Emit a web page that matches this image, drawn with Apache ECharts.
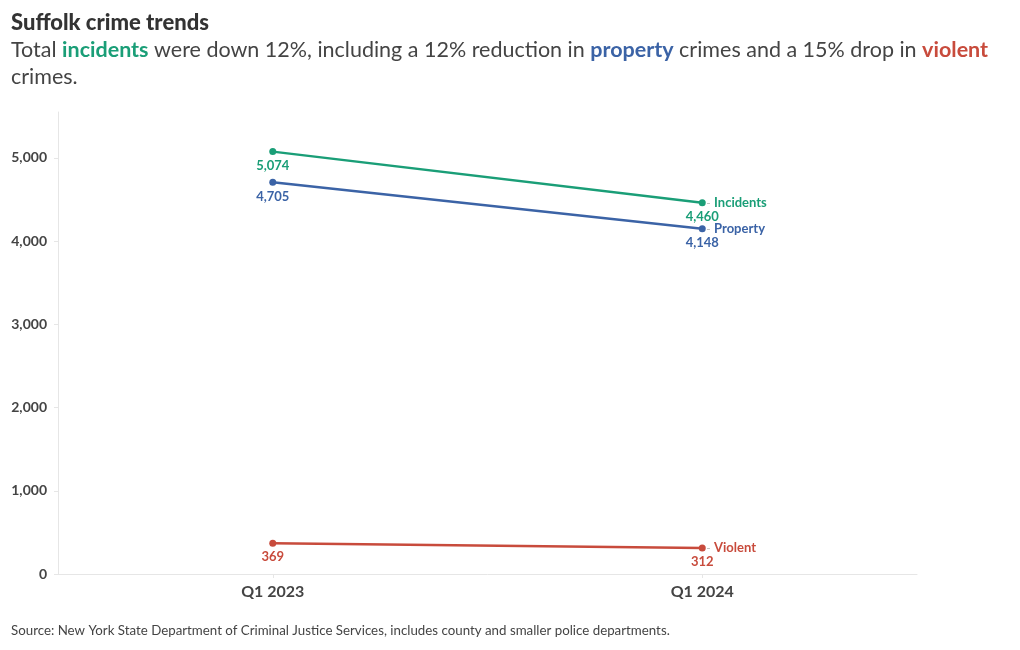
<!DOCTYPE html>
<html>
<head>
<meta charset="utf-8">
<script src="https://cdn.jsdelivr.net/npm/echarts@6/dist/echarts.min.js"></script>
<style>
html,body{margin:0;padding:0;background:#fff;}
#chart{width:1020px;height:650px;}
</style>
</head>
<body>
<div id="chart"></div>
<script>
const categories = ['Q1 2023', 'Q1 2024'];
const incidents = [5074, 4460];
const property = [4705, 4148];
const violent = [369, 312];
const yTicks = [0, 1000, 2000, 3000, 4000, 5000];

const FONT = 'Lato';
const C_INC = '#1a9e77';
const C_PROP = '#3b63a6';
const C_VIO = '#c84b3c';

const chart = echarts.init(document.getElementById('chart'));

function mkSeries(name, data, color) {
  return {
    name: name,
    type: 'line',
    data: data,
    symbol: 'circle',
    symbolSize: 7,
    lineStyle: { color: color, width: 2.5 },
    itemStyle: { color: color },
    label: {
      show: true,
      position: 'bottom',
      distance: 4,
      color: color,
      fontFamily: FONT,
      fontWeight: 'bold',
      fontSize: 13,
      formatter: p => p.value.toLocaleString('en-US')
    },
    endLabel: {
      show: true,
      distance: 4,
      formatter: '{d|-} {n|' + name + '}',
      rich: {
        d: { color: '#bbbbbb', fontFamily: FONT, fontSize: 12 },
        n: { color: color, fontFamily: FONT, fontWeight: 'bold', fontSize: 13 }
      }
    },
    emphasis: { disabled: true },
    animation: false
  };
}

chart.setOption({
  animation: false,
  title: [
    {
      left: 11, top: 12, padding: 0,
      text: 'Suffolk crime trends',
      textStyle: { fontFamily: FONT, fontWeight: 900, fontSize: 22, color: '#333333' }
    },
    {
      left: 11, top: 37, padding: 0,
      text: '{t|Total }{i|incidents}{t| were down 12%, including a 12% reduction in }{p|property}{t| crimes and a 15% drop in }{v|violent}\n{t|crimes.}',
      textStyle: {
        fontWeight: 'normal',
        rich: {
          t: { fontFamily: FONT, fontSize: 21.5, fontWeight: 'normal', color: '#444444', lineHeight: 27 },
          i: { fontFamily: FONT, fontSize: 21.5, fontWeight: 'bold', color: C_INC, lineHeight: 27 },
          p: { fontFamily: FONT, fontSize: 21.5, fontWeight: 'bold', color: C_PROP, lineHeight: 27 },
          v: { fontFamily: FONT, fontSize: 21.5, fontWeight: 'bold', color: C_VIO, lineHeight: 27 }
        }
      }
    },
    {
      left: 11, top: 624, padding: 0,
      text: 'Source: New York State Department of Criminal Justice Services, includes county and smaller police departments.',
      textStyle: { fontFamily: FONT, fontWeight: 'normal', fontSize: 13.3, color: '#444444' }
    }
  ],
  grid: { left: 58, right: 103, top: 112, bottom: 76 },
  xAxis: {
    type: 'category',
    data: categories,
    boundaryGap: true,
    axisLine: { show: true, lineStyle: { color: '#e6e6e6', width: 1 } },
    axisTick: { show: true, alignWithLabel: true, length: 4, lineStyle: { color: '#e6e6e6' } },
    axisLabel: { color: '#444444', fontFamily: FONT, fontWeight: 'bold', fontSize: 16, margin: 10 },
    splitLine: { show: false }
  },
  yAxis: {
    type: 'value',
    min: 0,
    max: 5550,
    axisLine: { show: true, lineStyle: { color: '#e6e6e6', width: 1 } },
    axisTick: { show: true, length: 4, customValues: yTicks, lineStyle: { color: '#e6e6e6' } },
    axisLabel: {
      color: '#444444', fontFamily: FONT, fontWeight: 'bold', fontSize: 14, margin: 11,
      customValues: yTicks,
      formatter: v => v.toLocaleString('en-US')
    },
    splitLine: { show: false }
  },
  series: [
    mkSeries('Incidents', incidents, C_INC),
    mkSeries('Property', property, C_PROP),
    mkSeries('Violent', violent, C_VIO)
  ]
});
</script>
</body>
</html>
